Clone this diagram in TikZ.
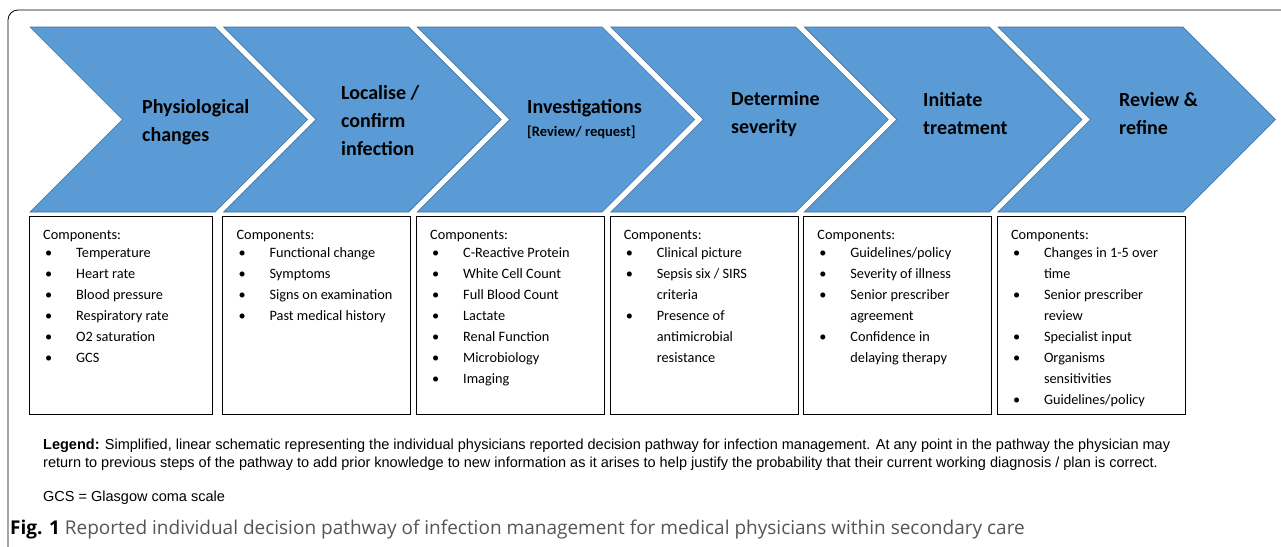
\documentclass[tikz,border=0pt]{standalone}
\usepackage{fontspec}
\setmainfont{Carlito}
\newfontfamily\legendfont{Liberation Sans}
\newfontfamily\capfont{Open Sans}
\usepackage{xcolor}
\definecolor{chevblue}{HTML}{5B9BD5}
\definecolor{chevline}{HTML}{41719C}
\definecolor{capgray}{HTML}{555555}
\newcommand{\itm}[1]{\makebox[33pt][l]{\hspace{2pt}\textbullet}#1}
\newcommand{\cnt}[1]{\hspace*{33pt}#1}

\begin{document}
\begin{tikzpicture}[x=1pt,y=-1pt]
	\tikzstyle{chev} = [fill=chevblue, draw=chevline, line width=0.6pt]
	\tikzstyle{head} = [anchor=west, align=left, inner sep=0pt, font=\bfseries\fontsize{20}{28}\selectfont]
	\tikzstyle{box} = [draw=black, line width=0.8pt, minimum width=188pt, minimum height=198pt, anchor=north west, inner sep=0pt]
	\tikzstyle{comp} = [anchor=north west, align=left, inner sep=0pt, font=\fontsize{14.3}{21}\selectfont]
	\clip (0,0) rectangle (1281,546);
	\draw[line width=0.8pt, rounded corners=10pt] (8,10) rectangle (1300,560);
	\foreach \i in {0,...,5}
		\filldraw[chev] ({30+193.6*\i},27) -- ++(185,0) -- ++(92.5,92.5) -- ++(-92.5,92.5)
			-- ++(-185,0) -- ++(92.5,-92.5) -- cycle;
		\node[head] (p) at (142,122.5) {Physiological\\changes};
		\node[head] (l) at (341,121) {Localise /\\confirm\\infection};
		\node[head] (i) at (527,108) {Investigations};
		\node[head, font=\bfseries\fontsize{14.5}{16}\selectfont] (r) at (527,132) {[Review/ request]};
		\node[head] (s) at (731,114) {Determine\\severity};
		\node[head] (t) at (923,114) {Initiate\\treatment};
		\node[head] (f) at (1119,114) {Review \&\\refine};
		\node[box, minimum width=183pt] (b1) at (29,216) {};
		\node[box] (b2) at (222.4,216) {};
		\node[box] (b3) at (416,216) {};
		\node[box] (b4) at (609.6,216) {};
		\node[box] (b5) at (803.2,216) {};
		\node[box] (b6) at (996.8,216) {};
		\node[comp] (c1) at ([shift={(14,14)}]b1.north west) {Components:\\[-3pt]\itm{Temperature}\\\itm{Heart rate}\\\itm{Blood pressure}\\\itm{Respiratory rate}\\\itm{O2 saturation}\\\itm{GCS}};
		\node[comp] (c2) at ([shift={(14,14)}]b2.north west) {Components:\\[-3pt]\itm{Functional change}\\\itm{Symptoms}\\\itm{Signs on examination}\\\itm{Past medical history}};
		\node[comp] (c3) at ([shift={(14,14)}]b3.north west) {Components:\\[-3pt]\itm{C-Reactive Protein}\\\itm{White Cell Count}\\\itm{Full Blood Count}\\\itm{Lactate}\\\itm{Renal Function}\\\itm{Microbiology}\\\itm{Imaging}};
		\node[comp] (c4) at ([shift={(14,14)}]b4.north west) {Components:\\[-3pt]\itm{Clinical picture}\\\itm{Sepsis six / SIRS}\\\cnt{criteria}\\\itm{Presence of}\\\cnt{antimicrobial}\\\cnt{resistance}};
		\node[comp] (c5) at ([shift={(14,14)}]b5.north west) {Components:\\[-3pt]\itm{Guidelines/policy}\\\itm{Severity of illness}\\\itm{Senior prescriber}\\\cnt{agreement}\\\itm{Confidence in}\\\cnt{delaying therapy}};
		\node[comp] (c6) at ([shift={(14,14)}]b6.north west) {Components:\\[-3pt]\itm{Changes in 1-5 over}\\\cnt{time}\\\itm{Senior prescriber}\\\cnt{review}\\\itm{Specialist input}\\\itm{Organisms}\\\cnt{sensitivities}\\\itm{Guidelines/policy}};
		\node[anchor=base west, align=left, inner sep=0pt, font=\legendfont\fontsize{14.5}{18}\selectfont] (lg) at (43,467) {\textbf{Legend:} Simplified, linear schematic representing the individual physicians reported decision pathway for infection management. At any point in the pathway the physician may\\return to previous steps of the pathway to add prior knowledge to new information as it arises to help justify the probability that their current working diagnosis / plan is correct.};
		\node[anchor=base west, inner sep=0pt, font=\legendfont\fontsize{14.5}{18}\selectfont] (g) at (43,501) {GCS = Glasgow coma scale};
		\node[anchor=base west, inner sep=0pt, font=\capfont\fontsize{19}{22}\selectfont] (fig) at (10,534) {\textbf{Fig. 1} {\color{capgray}Reported individual decision pathway of infection management for medical physicians within secondary care}};
\end{tikzpicture}
\end{document}
